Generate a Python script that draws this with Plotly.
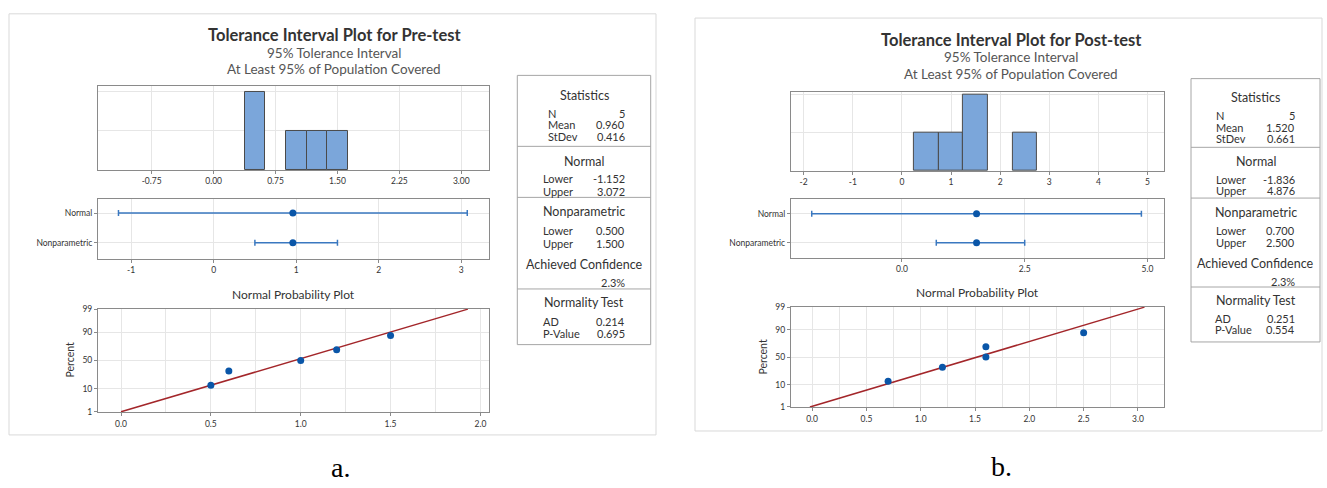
import plotly.graph_objects as go
from statistics import NormalDist

# ---------------- data ----------------
pre_values = [0.5, 0.6, 1.0, 1.2, 1.5]
pre_percent = [13.0, 31.5, 50.0, 68.5, 87.0]
pre_mean = 0.960
pre_normal_ti = [-1.152, 3.072]
pre_nonpar_ti = [0.500, 1.500]
pre_fit_x = [0.0, 1.93]
pre_fit_pct = [1, 99]

post_values = [0.7, 1.2, 1.6, 1.6, 2.5]
post_percent = [13.0, 31.5, 50.0, 68.5, 87.0]
post_mean = 1.520
post_normal_ti = [-1.836, 4.876]
post_nonpar_ti = [0.700, 2.500]
post_fit_x = [-0.02, 3.06]
post_fit_pct = [1, 99]

interval_categories = ["Nonparametric", "Normal"]
pct_ticks = [1, 10, 50, 90, 99]

pre_hist_ticks = [-0.75, 0.00, 0.75, 1.50, 2.25, 3.00]
pre_hist_ticktext = ["-0.75", "0.00", "0.75", "1.50", "2.25", "3.00"]
pre_int_ticks = [-1, 0, 1, 2, 3]
pre_int_ticktext = ["-1", "0", "1", "2", "3"]
pre_prob_ticks = [0.0, 0.5, 1.0, 1.5, 2.0]
pre_prob_ticktext = ["0.0", "0.5", "1.0", "1.5", "2.0"]

post_hist_ticks = [-2, -1, 0, 1, 2, 3, 4, 5]
post_hist_ticktext = ["-2", "-1", "0", "1", "2", "3", "4", "5"]
post_int_ticks = [0.0, 2.5, 5.0]
post_int_ticktext = ["0.0", "2.5", "5.0"]
post_prob_ticks = [0.0, 0.5, 1.0, 1.5, 2.0, 2.5, 3.0]
post_prob_ticktext = ["0.0", "0.5", "1.0", "1.5", "2.0", "2.5", "3.0"]

pre_summary = ["5", "0.960", "0.416"]
pre_normal_txt = ["-1.152", "3.072"]
pre_nonpar_txt = ["0.500", "1.500"]
pre_conf_txt = "2.3%"
pre_norm_test = ["0.214", "0.695"]

post_summary = ["5", "1.520", "0.661"]
post_normal_txt = ["-1.836", "4.876"]
post_nonpar_txt = ["0.700", "2.500"]
post_conf_txt = "2.3%"
post_norm_test = ["0.251", "0.554"]

pre_title = "Tolerance Interval Plot for Pre-test"
post_title = "Tolerance Interval Plot for Post-test"
subtitle1 = "95% Tolerance Interval"
subtitle2 = "At Least 95% of Population Covered"

# ---------------- helpers ----------------
W, H = 1327, 488
FONT = "Lato"
TXT = "#333333"
GRID = "#e6e6e6"
AXLINE = "#8a8a8a"
BAR = "#7ba6da"
DOT = "#0a56a8"
ERR = "#3a78c0"
FIT = "#a3262a"

nd = NormalDist()
def z(p):
    return nd.inv_cdf(p / 100.0)

def px(x):
    return x / W

def py(y):
    return 1 - y / H

fig = go.Figure()
layout = dict(
    width=W, height=H, autosize=False,
    margin=dict(l=0, r=0, t=0, b=0),
    paper_bgcolor="white", plot_bgcolor="white",
    showlegend=False, bargap=0,
    font=dict(family=FONT, color=TXT),
)
annotations = []
shapes = []

def ann(x, y, text, size, xanchor="center", color=TXT, weight="normal", family=FONT,
        angle=0, yanchor="middle"):
    annotations.append(dict(
        x=px(x), y=py(y), xref="paper", yref="paper", text=text, showarrow=False,
        xanchor=xanchor, yanchor=yanchor, textangle=angle, borderpad=0,
        font=dict(family=family, size=size, color=color, weight=weight)))

def rect(x0, y0, x1, y1, color, width=1):
    shapes.append(dict(type="rect", xref="paper", yref="paper",
                       x0=px(x0), x1=px(x1), y0=py(y1), y1=py(y0),
                       line=dict(color=color, width=width), fillcolor="rgba(0,0,0,0)"))

def hline(x0, x1, y, color, width=1):
    shapes.append(dict(type="line", xref="paper", yref="paper",
                       x0=px(x0), x1=px(x1), y0=py(y), y1=py(y),
                       line=dict(color=color, width=width)))

def axis_common():
    return dict(showline=True, mirror=True, linecolor=AXLINE, linewidth=1,
                showgrid=True, gridcolor=GRID, gridwidth=1, zeroline=False,
                ticks="outside", ticklen=3, tickcolor=AXLINE,
                tickfont=dict(family=FONT, size=8.5, color=TXT))

axis_id = [0]

def add_axes(xdom, ydom, xr, yr, xextra, yextra):
    axis_id[0] += 1
    i = axis_id[0]
    sx = "" if i == 1 else str(i)
    xa = axis_common(); xa.update(domain=[px(xdom[0]), px(xdom[1])], range=xr,
                                  anchor="y" + sx); xa.update(xextra)
    ya = axis_common(); ya.update(domain=[py(ydom[1]), py(ydom[0])], range=yr,
                                  anchor="x" + sx); ya.update(yextra)
    layout["xaxis" + sx] = xa
    layout["yaxis" + sx] = ya
    return "x" + sx, "y" + sx

def panel(p):
    # outer border
    rect(*p["border"], color="#d9d9d9")
    cx = p["title_x"]
    ann(cx, p["title_y"], p["title"], 16.5, weight="bold")
    ann(cx, p["title_y"] + 17.5, subtitle1, 13.5, color="#555555")
    ann(cx, p["title_y"] + 34.5, subtitle2, 13.5, color="#555555")

    x0, x1 = p["plot_x"]
    # histogram
    xa, ya = add_axes((x0, x1), p["hist_y"], p["xrange"], [0, p["hist_top"]],
                      dict(tickvals=p["hist_ticks"], ticktext=p["hist_ticktext"]),
                      dict(tickvals=[1, 2], showticklabels=False, ticks=""))
    fig.add_trace(go.Histogram(x=p["values"], xbins=p["bins"], xaxis=xa, yaxis=ya,
                               marker=dict(color=BAR, line=dict(color="#4a4a4a", width=1))))
    # interval plot
    xa, ya = add_axes((x0, x1), p["int_y"], p["xrange"], p["int_yrange"],
                      dict(tickvals=p["int_ticks"], ticktext=p["int_ticktext"]),
                      dict(tickvals=[0, 1], ticktext=interval_categories))
    m = p["mean"]
    lows = [p["nonpar"][0], p["normal"][0]]
    highs = [p["nonpar"][1], p["normal"][1]]
    fig.add_trace(go.Scatter(
        x=[m, m], y=[0, 1], mode="markers", xaxis=xa, yaxis=ya,
        marker=dict(color=DOT, size=7),
        error_x=dict(type="data", symmetric=False,
                     array=[h - m for h in highs], arrayminus=[m - l for l in lows],
                     color=ERR, thickness=1.5, width=3)))
    # normal probability plot
    ann(p["prob_title_x"], p["prob_title_y"], "Normal Probability Plot", 12)
    xa, ya = add_axes((x0, x1), p["prob_y"], p["prob_xrange"], [-2.35, 2.35],
                      dict(tickvals=p["prob_ticks"], ticktext=p["prob_ticktext"],
                           minor=dict(dtick=0.25, tick0=0, showgrid=True, gridcolor=GRID, ticks="")),
                      dict(tickvals=[z(v) for v in pct_ticks], ticktext=[str(v) for v in pct_ticks]))
    fig.add_trace(go.Scatter(x=p["fit_x"], y=[z(v) for v in p["fit_pct"]], mode="lines",
                             xaxis=xa, yaxis=ya, line=dict(color=FIT, width=1.5)))
    fig.add_trace(go.Scatter(x=p["values"], y=[z(v) for v in p["percent"]], mode="markers",
                             xaxis=xa, yaxis=ya, marker=dict(color=DOT, size=7)))
    ann(p["percent_x"], (p["prob_y"][0] + p["prob_y"][1]) / 2, "Percent", 10.5, angle=-90)

    # statistics box
    bx0, by0, bx1, by1 = p["box"]
    rect(bx0, by0, bx1, by1, color="#a6a6a6")
    ys = p["box_rows"]
    hc = (bx0 + bx1) / 2
    lx1, lx2, lx3 = p["label_x"]
    vx = p["value_x"]
    ann(hc, ys[0], "Statistics", 12.5)
    for lab, val, yy in zip(["N", "Mean", "StDev"], p["summary"], ys[1:4]):
        ann(lx1, yy, lab, 11, xanchor="left")
        ann(vx, yy, val, 11, xanchor="right")
    hline(bx0, bx1, ys[4], "#a6a6a6")
    ann(hc, ys[5], "Normal", 12.5)
    for lab, val, yy in zip(["Lower", "Upper"], p["normal_txt"], ys[6:8]):
        ann(lx2, yy, lab, 11, xanchor="left")
        ann(vx, yy, val, 11, xanchor="right")
    hline(bx0, bx1, ys[8], "#a6a6a6")
    ann(hc, ys[9], "Nonparametric", 12.5)
    for lab, val, yy in zip(["Lower", "Upper"], p["nonpar_txt"], ys[10:12]):
        ann(lx2, yy, lab, 11, xanchor="left")
        ann(vx, yy, val, 11, xanchor="right")
    ann(hc, ys[12], "Achieved Confidence", 12.5)
    ann(vx, ys[13], p["conf_txt"], 11, xanchor="right")
    hline(bx0, bx1, ys[14], "#a6a6a6")
    ann(hc, ys[15], "Normality Test", 12.5)
    for lab, val, yy in zip(["AD", "P-Value"], p["norm_test"], ys[16:18]):
        ann(lx3, yy, lab, 11, xanchor="left")
        ann(vx, yy, val, 11, xanchor="right")

    ann(p["tag_x"], p["tag_y"], p["tag"], 28, family="Liberation Serif", color="#000000",
        yanchor="bottom")

pre_panel = dict(
    border=(9, 9, 656, 438), title=pre_title, title_x=334, title_y=31,
    plot_x=(98, 489.4), xrange=[-1.40, 3.34],
    hist_y=(82.5, 168.3), hist_top=2.145, values=pre_values,
    bins=dict(start=0.375, end=1.625, size=0.25),
    hist_ticks=pre_hist_ticks, hist_ticktext=pre_hist_ticktext,
    int_y=(197.3, 258.3), int_yrange=[-0.528, 1.485],
    int_ticks=pre_int_ticks, int_ticktext=pre_int_ticktext,
    mean=pre_mean, normal=pre_normal_ti, nonpar=pre_nonpar_ti,
    prob_title_x=293, prob_title_y=295, prob_y=(309.3, 415), prob_xrange=[-0.128, 2.05],
    prob_ticks=pre_prob_ticks, prob_ticktext=pre_prob_ticktext,
    fit_x=pre_fit_x, fit_pct=pre_fit_pct, percent=pre_percent, percent_x=70,
    box=(517.3, 71.7, 650.7, 346), label_x=(546.7, 542.3, 541.7), value_x=626,
    box_rows=[91.7, 110.7, 122, 133.5, 144, 159, 176.7, 190.5, 196,
              210.7, 229.3, 243.3, 264, 282.7, 289.3, 302.7, 322, 334.5],
    summary=pre_summary, normal_txt=pre_normal_txt, nonpar_txt=pre_nonpar_txt,
    conf_txt=pre_conf_txt, norm_test=pre_norm_test,
    tag="a.", tag_x=340, tag_y=487.5,
)

post_panel = dict(
    border=(695, 13.3, 1322, 434), title=post_title, title_x=1011, title_y=35.3,
    plot_x=(790.9, 1163.7), xrange=[-2.26, 5.33],
    hist_y=(88.3, 169), hist_top=2.085, values=post_values,
    bins=dict(start=0.25, end=2.75, size=0.5),
    hist_ticks=post_hist_ticks, hist_ticktext=post_hist_ticktext,
    int_y=(197.3, 257.7), int_yrange=[-0.52, 1.52],
    int_ticks=post_int_ticks, int_ticktext=post_int_ticktext,
    mean=post_mean, normal=post_normal_ti, nonpar=post_nonpar_ti,
    prob_title_x=977, prob_title_y=292.7, prob_y=(307.3, 410), prob_xrange=[-0.195, 3.237],
    prob_ticks=post_prob_ticks, prob_ticktext=post_prob_ticktext,
    fit_x=post_fit_x, fit_pct=post_fit_pct, percent=post_percent, percent_x=763.5,
    box=(1191, 75, 1320, 343.3), label_x=(1215, 1215, 1214.3), value_x=1296,
    box_rows=[94.3, 113, 124.5, 135.7, 145, 159, 177.5, 189, 196.7,
              211.7, 229.5, 242, 263.3, 281.7, 287.3, 300.7, 319.3, 330.5],
    summary=post_summary, normal_txt=post_normal_txt, nonpar_txt=post_nonpar_txt,
    conf_txt=post_conf_txt, norm_test=post_norm_test,
    tag="b.", tag_x=1001, tag_y=487,
)

panel(pre_panel)
panel(post_panel)

layout["annotations"] = annotations
layout["shapes"] = shapes
fig.update_layout(**layout)

fig.write_html("out.html", config={"displayModeBar": False},
               post_script="document.body.style.margin='0';")
